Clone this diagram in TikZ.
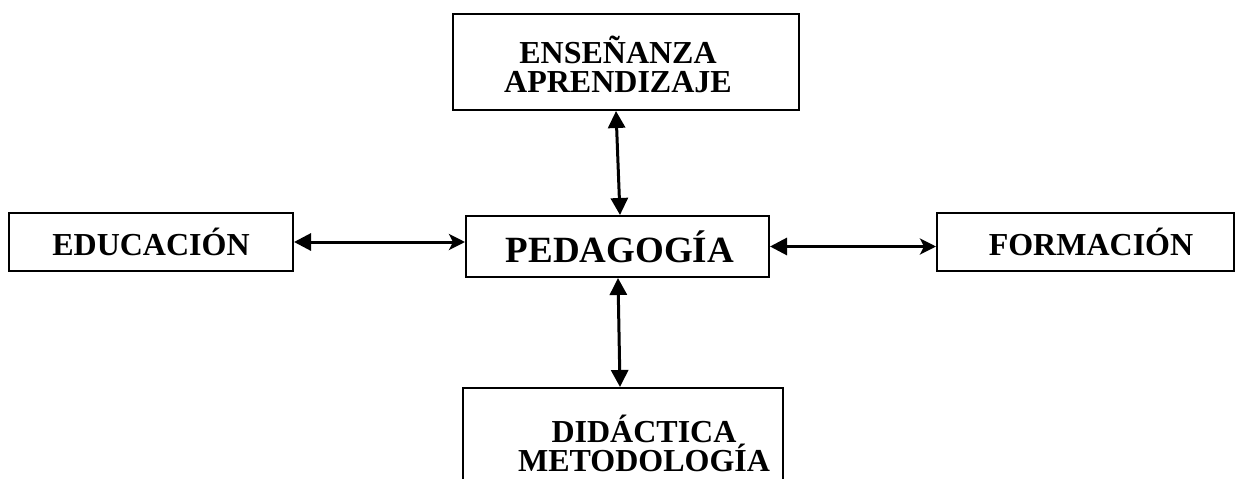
\documentclass[tikz,border=0pt]{standalone}
\usepackage{fontspec}
\setmainfont{Liberation Serif}
\usetikzlibrary{arrows.meta}

\tikzset{
  tri/.tip={Triangle[length=17pt,width=17pt]},
  barb/.tip={Stealth[length=16pt,width=16pt,inset=4pt]},
}

\begin{document}
\begin{tikzpicture}%
        [x=1pt, y=-1pt,
        box/.style={draw, line width=2pt, inner sep=0pt},
        lbl/.style={font=\bfseries\fontsize{32}{29}\selectfont, align=center, anchor=base, inner sep=0pt},
        biglbl/.style={lbl, font=\bfseries\fontsize{37}{40}\selectfont},
        link/.style={line width=3pt, tri-tri},
        sidelink/.style={line width=3pt, tri-barb}]
    \useasboundingbox (0,0) rectangle (1235,479);
    \clip (0,0) rectangle (1235,479);
    %% Boxes
    \node[box, minimum width=346pt, minimum height=96pt] (ense) at (626,62) {};
    \node[box, minimum width=303pt, minimum height=61pt] (peda) at (617.5,246.5) {};
    \node[box, minimum width=284pt, minimum height=58pt] (educ) at (151,242) {};
    \node[box, minimum width=297pt, minimum height=58pt] (form) at (1085.5,242) {};
    \node[box, minimum width=320pt, minimum height=104pt] (dida) at (623,440) {};
    %% Texts (base = last line)
    \node[lbl] (enset) at (618,92) {ENSEÑANZA\\APRENDIZAJE};
    \node[biglbl] (pedat) at (620,262) {PEDAGOGÍA};
    \node[lbl] (educt) at (151,255) {EDUCACIÓN};
    \node[lbl] (formt) at (1091,255) {FORMACIÓN};
    \node[lbl] (didat) at (644,471) {DIDÁCTICA\\METODOLOGÍA};
    %%
    %% Connectors
    \draw[link] ([xshift=-10pt]ense.south) -- ([xshift=2.5pt]peda.north);
    \draw[link] ([xshift=0.5pt]peda.south) -- ([xshift=-3pt]dida.north);
    \draw[sidelink] (educ.east) -- (educ.east -| peda.west);
    \draw[sidelink] (peda.east) -- (peda.east -| form.west);
\end{tikzpicture}
\end{document}
